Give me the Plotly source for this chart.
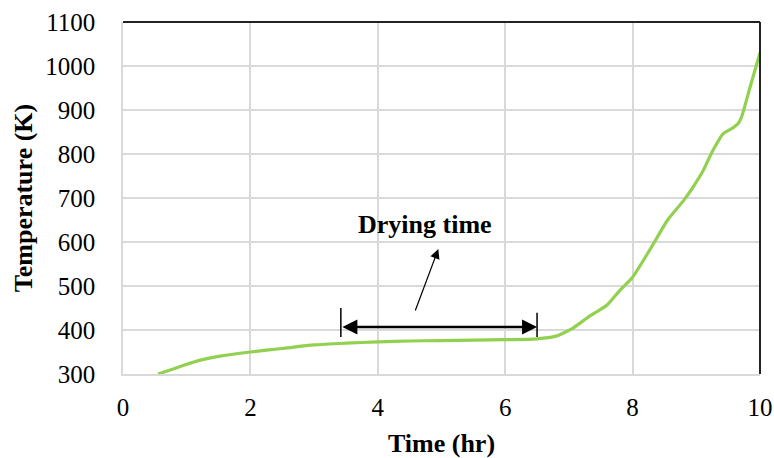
import plotly.graph_objects as go

# Temperature history (hr, K)
time_hr = [0.55, 0.8, 1.0, 1.2, 1.5, 2.0, 2.5, 3.0, 3.5, 4.0, 4.5, 5.0, 5.5, 6.0,
           6.5, 6.8, 6.9, 7.07, 7.33, 7.6, 7.8, 8.0, 8.27, 8.55, 8.8, 8.95, 9.1,
           9.26, 9.42, 9.5, 9.58, 9.66, 9.71, 9.84, 9.93, 10.0]
temp_k = [300, 312, 322, 331, 340, 350, 358, 366, 370, 373, 375, 376, 377, 378,
          380, 386, 392, 405, 432, 457, 490, 520, 582, 650, 694, 725, 760,
          808, 846, 853, 860, 870, 884, 950, 995, 1030]

x_ticks = [0, 2, 4, 6, 8, 10]
y_ticks = [300, 400, 500, 600, 700, 800, 900, 1000, 1100]

# Drying-time bracket and label
dry_start, dry_end, dry_level = 3.42, 6.5, 407
label_pos = (4.74, 639)
pointer_tail, pointer_head = (4.58, 441), (4.95, 584)

FONT = "Times New Roman, Liberation Serif, serif"
GRID = "#d9d9d9"

fig = go.Figure()
fig.add_trace(go.Scatter(x=time_hr, y=temp_k, mode="lines",
                         line=dict(color="#92d050", width=3.2, shape="spline", smoothing=0.6),
                         hoverinfo="skip", showlegend=False))

fig.update_xaxes(range=[0, 10], tickvals=x_ticks, ticktext=[str(v) for v in x_ticks],
                 showgrid=True, gridcolor=GRID, gridwidth=1.5,
                 showline=True, linecolor=GRID, linewidth=1.5,
                 zeroline=False, ticks="outside", ticklen=10, tickcolor="rgba(0,0,0,0)",
                 automargin=False,
                 tickfont=dict(family=FONT, size=25, color="#000"),
                 title=dict(text="<b>Time (hr)</b>", font=dict(family=FONT, size=26, color="#000"),
                            standoff=19))
fig.update_yaxes(range=[300, 1100], tickvals=y_ticks, ticktext=[str(v) for v in y_ticks],
                 showgrid=True, gridcolor=GRID, gridwidth=1.5,
                 showline=True, linecolor=GRID, linewidth=1.5,
                 zeroline=False, ticks="outside", ticklen=21, tickcolor="rgba(0,0,0,0)",
                 automargin=False,
                 tickfont=dict(family=FONT, size=25, color="#000"),
                 title=dict(text="<b>Temperature (K)</b>", font=dict(family=FONT, size=26, color="#000"),
                            standoff=5))

# Dark top and right frame edges
fig.add_shape(type="line", xref="paper", yref="paper", x0=0, x1=1, y0=1, y1=1,
              line=dict(color="#222", width=2))
fig.add_shape(type="line", xref="paper", yref="paper", x0=1, x1=1, y0=0, y1=1,
              line=dict(color="#222", width=2))

# End markers of the drying interval
for xv, top in ((dry_start, 450), (dry_end, 439)):
    fig.add_shape(type="line", xref="x", yref="y", x0=xv, x1=xv, y0=384, y1=top,
                  line=dict(color="#000", width=1.5))

# Double-headed bracket
fig.add_annotation(x=dry_end, y=dry_level, ax=dry_start, ay=dry_level,
                   xref="x", yref="y", axref="x", ayref="y", text="",
                   showarrow=True, arrowhead=2, arrowside="end+start",
                   arrowsize=1.2, arrowwidth=2.5, arrowcolor="#000", standoff=0, startstandoff=0)
# Pointer to the label
fig.add_annotation(x=pointer_head[0], y=pointer_head[1], ax=pointer_tail[0], ay=pointer_tail[1],
                   xref="x", yref="y", axref="x", ayref="y", text="",
                   showarrow=True, arrowhead=2, arrowsize=1.6, arrowwidth=1.2,
                   arrowcolor="#000", standoff=0)
fig.add_annotation(x=label_pos[0], y=label_pos[1], xref="x", yref="y",
                   text="<b>Drying time</b>", showarrow=False,
                   font=dict(family=FONT, size=26, color="#000"))

fig.update_layout(width=774, height=458, margin=dict(l=123, r=14, t=22, b=84),
                  plot_bgcolor="#fff", paper_bgcolor="#fff")

fig.write_html("out.html")
